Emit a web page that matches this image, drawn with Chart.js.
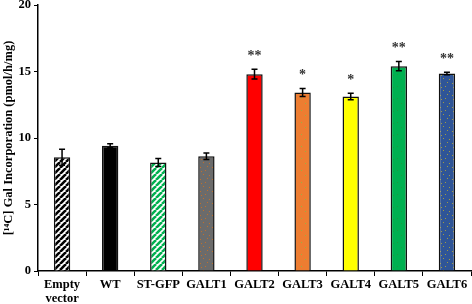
<!DOCTYPE html>
<html><head><meta charset="utf-8">
<script src="https://cdn.jsdelivr.net/npm/chart.js@4/dist/chart.umd.min.js"></script>
<style>html,body{margin:0;padding:0;background:#fff}#w{width:472px;height:304px}</style>
</head><body><div id="w"><canvas id="c" width="472" height="304"></canvas></div>
<script>
const categories = [["Empty","vector"],"WT","ST-GFP","GALT1","GALT2","GALT3","GALT4","GALT5","GALT6"];
const values = [8.55, 9.42, 8.15, 8.63, 14.8, 13.42, 13.12, 15.4, 14.85];
const errors = [0.6, 0.15, 0.3, 0.25, 0.37, 0.3, 0.25, 0.35, 0.1];
const stars = ["", "", "", "", "**", "*", "*", "**", "**"];
const yTicks = [0, 5, 10, 15, 20];
const yTitle = "[\u00B9\u2074C] Gal Incorporation (pmol/h/mg)";

function pat(bg, draw, size) {
  const c = document.createElement('canvas'); c.width = size; c.height = size;
  const g = c.getContext('2d'); g.fillStyle = bg; g.fillRect(0,0,size,size); draw(g, size);
  return g.createPattern(c, 'repeat');
}
function stripes(color){ return pat('#ffffff', (g,s)=>{ g.strokeStyle=color; g.lineWidth=2.6;
  for (let k=-1;k<=1;k++){ g.beginPath(); g.moveTo(k*s, s); g.lineTo(k*s+s, 0); g.stroke(); } }, 6); }
function dots(bg, col, n){ return pat(bg, (g,s)=>{ g.fillStyle=col;
  const pts=[[1,2],[5,7],[9,3],[3,10],[8,11],[11,6]]; pts.slice(0,n).forEach(p=>g.fillRect(p[0],p[1],1,1)); }, 12); }
const fills = [
  stripes('#000000'), '#000000', stripes('#00b050'), dots('#6b6b6b','#c0702a',6),
  '#ff0000', dots('#ed7d31','#9ab040',2), '#ffff00', dots('#00b050','#1a9a40',3), dots('#2f5597','#a09a40',6)
];

const errPlugin = {
  id: 'err',
  afterDatasetsDraw(chart) {
    const ctx = chart.ctx, y = chart.scales.y, meta = chart.getDatasetMeta(0);
    ctx.save();
    ctx.strokeStyle = '#000'; ctx.lineWidth = 1.5;
    meta.data.forEach((bar, i) => {
      const x = bar.x, v = values[i], e = errors[i];
      const yt = y.getPixelForValue(v + e), yb = y.getPixelForValue(v - e);
      ctx.beginPath();
      ctx.moveTo(x, yt); ctx.lineTo(x, yb);
      ctx.moveTo(x - 3, yt); ctx.lineTo(x + 3, yt);
      ctx.moveTo(x - 3, yb); ctx.lineTo(x + 3, yb);
      ctx.stroke();
      if (stars[i]) {
        ctx.fillStyle = '#333';
        ctx.font = 'bold 14px "Liberation Serif"';
        ctx.textAlign = 'center'; ctx.textBaseline = 'middle';
        ctx.fillText(stars[i], x, yt - 13);
      }
    });
    ctx.restore();
  }
};

new Chart(document.getElementById('c'), {
  type: 'bar',
  data: { labels: categories, datasets: [{
    data: values, backgroundColor: fills, borderColor: '#111', borderWidth: 1.5,
    categoryPercentage: 1, barPercentage: 0.34
  }]},
  options: {
    responsive: false, animation: false, devicePixelRatio: 1,
    layout: { padding: { top: 0, right: 1, left: 0, bottom: 0 } },
    plugins: { legend: { display: false }, tooltip: { enabled: false } },
    scales: {
      x: {
        grid: { offset: true, drawOnChartArea: false, tickLength: 5, color: '#000', lineWidth: 1 },
        border: { color: '#000', width: 1.5 },
        ticks: { color: '#000', font: { family: 'Liberation Serif', weight: 'bold', size: 12.5, lineHeight: 1.1 }, padding: 2, maxRotation: 0, autoSkip: false },
        afterFit(s) { s.height = 33; }
      },
      y: {
        min: 0, max: 20,
        afterBuildTicks(s) { s.ticks = yTicks.map(v => ({ value: v })); },
        grid: { drawOnChartArea: false, tickLength: 4, color: '#000' },
        border: { color: '#000', width: 1.5 },
        ticks: { color: '#000', font: { family: 'Liberation Serif', weight: 'bold', size: 12.5 }, padding: 3 },
        title: { display: true, text: yTitle, color: '#000', font: { family: 'Liberation Serif', weight: 'bold', size: 12.5 }, padding: 1 },
        afterFit(s) { s.width = 38; s.paddingTop = 5; s.paddingBottom = 0; }
      }
    }
  },
  plugins: [errPlugin]
});
</script></body></html>
